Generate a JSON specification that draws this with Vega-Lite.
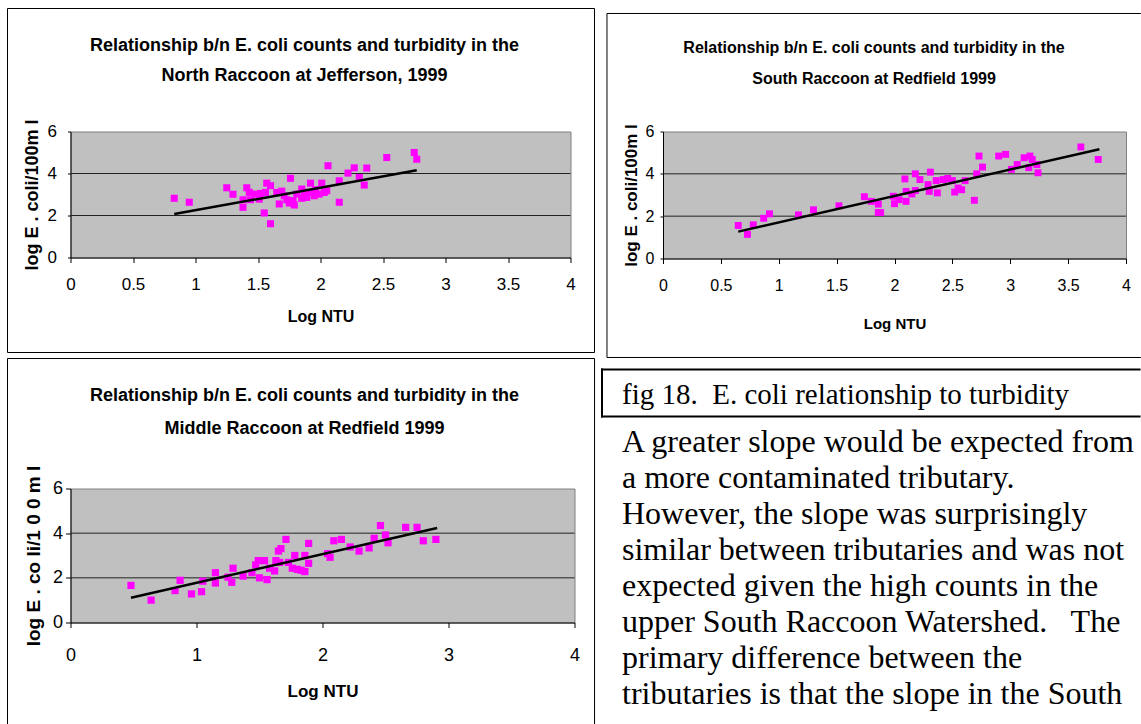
{
  "$schema": "https://vega.github.io/schema/vega-lite/v6.json",
  "padding": {"left": 6.5, "top": 7.5, "right": 0, "bottom": 0},
  "background": "white",
  "bounds": "full",
  "spacing": 3.5,
  "config": {
    "view": {"fill": "#C0C0C0", "stroke": "#808080", "strokeWidth": 1},
    "axis": {
      "labelFont": "Liberation Sans, Arial, sans-serif",
      "labelColor": "black",
      "titleColor": "black",
      "domainColor": "black",
      "domainWidth": 1,
      "tickColor": "black",
      "tickWidth": 1,
      "labelFlush": false,
      "grid": false
    }
  },
  "datasets": {
    "north": [
      {"ntu": 0.83, "ecoli": 2.82}, {"ntu": 0.95, "ecoli": 2.63}, {"ntu": 1.25, "ecoli": 3.32}, {"ntu": 1.30, "ecoli": 3.01},
      {"ntu": 1.38, "ecoli": 2.39}, {"ntu": 1.38, "ecoli": 2.75}, {"ntu": 1.41, "ecoli": 3.32}, {"ntu": 1.43, "ecoli": 3.10},
      {"ntu": 1.44, "ecoli": 2.75}, {"ntu": 1.48, "ecoli": 3.02}, {"ntu": 1.51, "ecoli": 2.78}, {"ntu": 1.52, "ecoli": 3.05},
      {"ntu": 1.55, "ecoli": 2.12}, {"ntu": 1.56, "ecoli": 3.10}, {"ntu": 1.57, "ecoli": 3.54}, {"ntu": 1.60, "ecoli": 3.42},
      {"ntu": 1.60, "ecoli": 1.61}, {"ntu": 1.65, "ecoli": 3.10}, {"ntu": 1.67, "ecoli": 2.55}, {"ntu": 1.69, "ecoli": 3.16},
      {"ntu": 1.71, "ecoli": 2.94}, {"ntu": 1.73, "ecoli": 2.75}, {"ntu": 1.75, "ecoli": 2.59}, {"ntu": 1.76, "ecoli": 3.77},
      {"ntu": 1.78, "ecoli": 2.71}, {"ntu": 1.79, "ecoli": 2.50}, {"ntu": 1.81, "ecoli": 3.02}, {"ntu": 1.85, "ecoli": 3.26},
      {"ntu": 1.85, "ecoli": 2.82}, {"ntu": 1.87, "ecoli": 3.10}, {"ntu": 1.89, "ecoli": 2.86}, {"ntu": 1.91, "ecoli": 3.10},
      {"ntu": 1.92, "ecoli": 3.54}, {"ntu": 1.95, "ecoli": 2.94}, {"ntu": 1.96, "ecoli": 3.23}, {"ntu": 1.99, "ecoli": 3.02},
      {"ntu": 2.01, "ecoli": 3.54}, {"ntu": 2.03, "ecoli": 3.10}, {"ntu": 2.05, "ecoli": 3.18}, {"ntu": 2.06, "ecoli": 4.37},
      {"ntu": 2.15, "ecoli": 3.65}, {"ntu": 2.15, "ecoli": 2.63}, {"ntu": 2.22, "ecoli": 4.02}, {"ntu": 2.27, "ecoli": 4.27},
      {"ntu": 2.31, "ecoli": 3.81}, {"ntu": 2.35, "ecoli": 3.45}, {"ntu": 2.37, "ecoli": 4.26}, {"ntu": 2.53, "ecoli": 4.76},
      {"ntu": 2.75, "ecoli": 5.00}, {"ntu": 2.77, "ecoli": 4.68}
    ],
    "northTrend": [{"ntu": 0.83, "ecoli": 2.07}, {"ntu": 2.77, "ecoli": 4.15}],
    "south": [
      {"ntu": 0.65, "ecoli": 1.56}, {"ntu": 0.73, "ecoli": 1.14}, {"ntu": 0.78, "ecoli": 1.59}, {"ntu": 0.87, "ecoli": 1.90},
      {"ntu": 0.92, "ecoli": 2.11}, {"ntu": 1.17, "ecoli": 2.06}, {"ntu": 1.30, "ecoli": 2.30}, {"ntu": 1.52, "ecoli": 2.49},
      {"ntu": 1.74, "ecoli": 2.92}, {"ntu": 1.80, "ecoli": 2.70}, {"ntu": 1.86, "ecoli": 2.57}, {"ntu": 1.86, "ecoli": 2.17},
      {"ntu": 1.88, "ecoli": 2.17}, {"ntu": 1.99, "ecoli": 2.94}, {"ntu": 2.00, "ecoli": 2.59}, {"ntu": 2.04, "ecoli": 2.78},
      {"ntu": 2.09, "ecoli": 3.76}, {"ntu": 2.10, "ecoli": 2.70}, {"ntu": 2.10, "ecoli": 3.17}, {"ntu": 2.15, "ecoli": 3.05},
      {"ntu": 2.18, "ecoli": 4.00}, {"ntu": 2.18, "ecoli": 3.21}, {"ntu": 2.22, "ecoli": 3.73}, {"ntu": 2.29, "ecoli": 3.49},
      {"ntu": 2.31, "ecoli": 4.08}, {"ntu": 2.30, "ecoli": 3.17}, {"ntu": 2.36, "ecoli": 3.68}, {"ntu": 2.37, "ecoli": 3.10},
      {"ntu": 2.42, "ecoli": 3.73}, {"ntu": 2.46, "ecoli": 3.78}, {"ntu": 2.50, "ecoli": 3.68}, {"ntu": 2.52, "ecoli": 3.14},
      {"ntu": 2.55, "ecoli": 3.33}, {"ntu": 2.58, "ecoli": 3.25}, {"ntu": 2.61, "ecoli": 3.68}, {"ntu": 2.69, "ecoli": 2.75},
      {"ntu": 2.71, "ecoli": 4.00}, {"ntu": 2.73, "ecoli": 4.84}, {"ntu": 2.76, "ecoli": 4.32}, {"ntu": 2.90, "ecoli": 4.84},
      {"ntu": 2.96, "ecoli": 4.92}, {"ntu": 3.01, "ecoli": 4.21}, {"ntu": 3.06, "ecoli": 4.44}, {"ntu": 3.12, "ecoli": 4.76},
      {"ntu": 3.16, "ecoli": 4.29}, {"ntu": 3.17, "ecoli": 4.84}, {"ntu": 3.19, "ecoli": 4.68}, {"ntu": 3.23, "ecoli": 4.44},
      {"ntu": 3.24, "ecoli": 4.05}, {"ntu": 3.61, "ecoli": 5.27}, {"ntu": 3.76, "ecoli": 4.68}
    ],
    "southTrend": [{"ntu": 0.65, "ecoli": 1.27}, {"ntu": 3.77, "ecoli": 5.16}],
    "middle": [
      {"ntu": 0.48, "ecoli": 1.66}, {"ntu": 0.64, "ecoli": 1.00}, {"ntu": 0.83, "ecoli": 1.43}, {"ntu": 0.87, "ecoli": 1.89},
      {"ntu": 0.96, "ecoli": 1.28}, {"ntu": 1.04, "ecoli": 1.38}, {"ntu": 1.05, "ecoli": 1.85}, {"ntu": 1.15, "ecoli": 2.23},
      {"ntu": 1.15, "ecoli": 1.77}, {"ntu": 1.25, "ecoli": 2.03}, {"ntu": 1.28, "ecoli": 1.80}, {"ntu": 1.29, "ecoli": 2.43},
      {"ntu": 1.37, "ecoli": 2.08}, {"ntu": 1.44, "ecoli": 2.23}, {"ntu": 1.47, "ecoli": 2.58}, {"ntu": 1.49, "ecoli": 2.77},
      {"ntu": 1.50, "ecoli": 2.00}, {"ntu": 1.54, "ecoli": 2.77}, {"ntu": 1.56, "ecoli": 1.92}, {"ntu": 1.58, "ecoli": 2.43},
      {"ntu": 1.62, "ecoli": 2.31}, {"ntu": 1.63, "ecoli": 2.77}, {"ntu": 1.65, "ecoli": 3.20}, {"ntu": 1.67, "ecoli": 3.31},
      {"ntu": 1.66, "ecoli": 2.69}, {"ntu": 1.71, "ecoli": 3.72}, {"ntu": 1.73, "ecoli": 2.69}, {"ntu": 1.76, "ecoli": 2.43},
      {"ntu": 1.78, "ecoli": 3.00}, {"ntu": 1.80, "ecoli": 2.38}, {"ntu": 1.83, "ecoli": 2.34}, {"ntu": 1.86, "ecoli": 2.28},
      {"ntu": 1.86, "ecoli": 3.00}, {"ntu": 1.89, "ecoli": 3.54}, {"ntu": 1.89, "ecoli": 2.65}, {"ntu": 2.04, "ecoli": 3.08},
      {"ntu": 2.06, "ecoli": 2.92}, {"ntu": 2.09, "ecoli": 3.66}, {"ntu": 2.15, "ecoli": 3.72}, {"ntu": 2.22, "ecoli": 3.38},
      {"ntu": 2.29, "ecoli": 3.20}, {"ntu": 2.37, "ecoli": 3.34}, {"ntu": 2.41, "ecoli": 3.77}, {"ntu": 2.46, "ecoli": 4.34},
      {"ntu": 2.50, "ecoli": 3.92}, {"ntu": 2.52, "ecoli": 3.57}, {"ntu": 2.66, "ecoli": 4.26}, {"ntu": 2.75, "ecoli": 4.26},
      {"ntu": 2.80, "ecoli": 3.66}, {"ntu": 2.90, "ecoli": 3.72}
    ],
    "middleTrend": [{"ntu": 0.48, "ecoli": 1.11}, {"ntu": 2.91, "ecoli": 4.23}],
    "paragraph": [
      {"line": 1, "text": "A greater slope would be expected from"},
      {"line": 2, "text": "a more contaminated tributary."},
      {"line": 3, "text": "However, the slope was surprisingly"},
      {"line": 4, "text": "similar between tributaries and was not"},
      {"line": 5, "text": "expected given the high counts in the"},
      {"line": 6, "text": "upper South Raccoon Watershed.\u00a0\u00a0 The"},
      {"line": 7, "text": "primary difference between the"},
      {"line": 8, "text": "tributaries is that the slope in the South"}
    ]
  },
  "hconcat": [
    {
      "bounds": "flush",
      "spacing": 231,
      "vconcat": [
        {
          "width": 500,
          "height": 126,
          "layer": [
            {"data": {"values": [{}]}, "mark": {"type": "rule", "color": "#222222", "strokeWidth": 1},
              "encoding": {
                "x": {"datum": 0, "type": "quantitative", "scale": {"domain": [0, 4], "nice": false, "zero": false}},
                "x2": {"datum": 4},
                "y": {"datum": 2, "type": "quantitative", "scale": {"domain": [0, 6], "nice": false, "zero": false}}}},
            {"data": {"values": [{}]}, "mark": {"type": "rule", "color": "#222222", "strokeWidth": 1},
              "encoding": {
                "x": {"datum": 0, "type": "quantitative", "scale": {"domain": [0, 4], "nice": false, "zero": false}},
                "x2": {"datum": 4},
                "y": {"datum": 4, "type": "quantitative", "scale": {"domain": [0, 6], "nice": false, "zero": false}}}},
            {"data": {"name": "north"}, "mark": {"type": "square", "size": 50, "color": "#FF00FF", "opacity": 1},
              "encoding": {
                "x": {"field": "ntu", "type": "quantitative", "scale": {"domain": [0, 4], "nice": false, "zero": false},
                  "axis": {"values": [0, 0.5, 1, 1.5, 2, 2.5, 3, 3.5, 4], "format": "~g", "title": "Log NTU", "tickSize": 5, "labelPadding": 14, "labelFontSize": 17, "titleFont": "Liberation Sans, Arial, sans-serif", "titleFontSize": 16, "titleFontWeight": "bold", "titlePadding": 16}},
                "y": {"field": "ecoli", "type": "quantitative", "scale": {"domain": [0, 6], "nice": false, "zero": false},
                  "axis": {"values": [0, 2, 4, 6], "title": "log E . coli/100m l", "tickSize": 3, "labelPadding": 11, "labelFontSize": 17, "titleFont": "Liberation Sans, Arial, sans-serif", "titleFontSize": 18, "titleFontWeight": "bold", "titlePadding": 6}}
              }},
            {"data": {"name": "northTrend"}, "mark": {"type": "line", "color": "black", "strokeWidth": 2.5},
              "encoding": {
                "x": {"field": "ntu", "type": "quantitative", "scale": {"domain": [0, 4], "nice": false, "zero": false}},
                "y": {"field": "ecoli", "type": "quantitative", "scale": {"domain": [0, 6], "nice": false, "zero": false}}
              }},
            {"data": {"values": [{}]},
              "mark": {"type": "text", "font": "Liberation Sans, Arial, sans-serif", "fontSize": 18, "fontWeight": "bold", "align": "center", "baseline": "alphabetic", "lineHeight": 30, "color": "black"},
              "encoding": {
                "x": {"datum": 1.872, "type": "quantitative", "scale": {"domain": [0, 4], "nice": false, "zero": false}},
                "y": {"datum": 9.857, "type": "quantitative", "scale": {"domain": [0, 6], "nice": false, "zero": false}},
                "text": {"value": ["Relationship b/n E. coli counts and turbidity in the", "North Raccoon at Jefferson, 1999"]}}},
            {"data": {"values": [{}]}, "mark": {"type": "rule", "color": "black", "strokeWidth": 1},
              "encoding": {
                "x": {"datum": -0.504, "type": "quantitative", "scale": {"domain": [0, 4], "nice": false, "zero": false}},
                "y": {"datum": -4.524, "type": "quantitative", "scale": {"domain": [0, 6], "nice": false, "zero": false}},
                "y2": {"datum": 11.857}}},
            {"data": {"values": [{}]}, "mark": {"type": "rule", "color": "black", "strokeWidth": 1},
              "encoding": {
                "x": {"datum": 4.192, "type": "quantitative", "scale": {"domain": [0, 4], "nice": false, "zero": false}},
                "y": {"datum": -4.524, "type": "quantitative", "scale": {"domain": [0, 6], "nice": false, "zero": false}},
                "y2": {"datum": 11.857}}},
            {"data": {"values": [{}]}, "mark": {"type": "rule", "color": "black", "strokeWidth": 1},
              "encoding": {
                "x": {"datum": -0.504, "type": "quantitative", "scale": {"domain": [0, 4], "nice": false, "zero": false}},
                "x2": {"datum": 4.192},
                "y": {"datum": 11.857, "type": "quantitative", "scale": {"domain": [0, 6], "nice": false, "zero": false}}}},
            {"data": {"values": [{}]}, "mark": {"type": "rule", "color": "black", "strokeWidth": 1},
              "encoding": {
                "x": {"datum": -0.504, "type": "quantitative", "scale": {"domain": [0, 4], "nice": false, "zero": false}},
                "x2": {"datum": 4.192},
                "y": {"datum": -4.524, "type": "quantitative", "scale": {"domain": [0, 6], "nice": false, "zero": false}}}}
          ]
        },
        {
          "width": 504,
          "height": 134,
          "layer": [
            {"data": {"values": [{}]}, "mark": {"type": "rule", "color": "#222222", "strokeWidth": 1},
              "encoding": {
                "x": {"datum": 0, "type": "quantitative", "scale": {"domain": [0, 4], "nice": false, "zero": false}},
                "x2": {"datum": 4},
                "y": {"datum": 2, "type": "quantitative", "scale": {"domain": [0, 6], "nice": false, "zero": false}}}},
            {"data": {"values": [{}]}, "mark": {"type": "rule", "color": "#222222", "strokeWidth": 1},
              "encoding": {
                "x": {"datum": 0, "type": "quantitative", "scale": {"domain": [0, 4], "nice": false, "zero": false}},
                "x2": {"datum": 4},
                "y": {"datum": 4, "type": "quantitative", "scale": {"domain": [0, 6], "nice": false, "zero": false}}}},
            {"data": {"name": "middle"}, "mark": {"type": "square", "size": 52, "color": "#FF00FF", "opacity": 1},
              "encoding": {
                "x": {"field": "ntu", "type": "quantitative", "scale": {"domain": [0, 4], "nice": false, "zero": false},
                  "axis": {"values": [0, 1, 2, 3, 4], "format": "~g", "title": "Log NTU", "tickSize": 5, "labelPadding": 19, "labelFontSize": 18, "titleFont": "Liberation Sans, Arial, sans-serif", "titleFontSize": 17, "titleFontWeight": "bold", "titlePadding": 19}},
                "y": {"field": "ecoli", "type": "quantitative", "scale": {"domain": [0, 6], "nice": false, "zero": false},
                  "axis": {"values": [0, 2, 4, 6], "title": "log E . co li/1 0 0 m l", "tickSize": 5, "labelPadding": 3, "labelFontSize": 18, "titleFont": "Liberation Sans, Arial, sans-serif", "titleFontSize": 19, "titleFontWeight": "bold", "titlePadding": 9}}
              }},
            {"data": {"name": "middleTrend"}, "mark": {"type": "line", "color": "black", "strokeWidth": 2.5},
              "encoding": {
                "x": {"field": "ntu", "type": "quantitative", "scale": {"domain": [0, 4], "nice": false, "zero": false}},
                "y": {"field": "ecoli", "type": "quantitative", "scale": {"domain": [0, 6], "nice": false, "zero": false}}
              }},
            {"data": {"values": [{}]},
              "mark": {"type": "text", "font": "Liberation Sans, Arial, sans-serif", "fontSize": 18, "fontWeight": "bold", "align": "center", "baseline": "alphabetic", "lineHeight": 33, "color": "black"},
              "encoding": {
                "x": {"datum": 1.857, "type": "quantitative", "scale": {"domain": [0, 4], "nice": false, "zero": false}},
                "y": {"datum": 9.94, "type": "quantitative", "scale": {"domain": [0, 6], "nice": false, "zero": false}},
                "text": {"value": ["Relationship b/n E. coli counts and turbidity in the", "Middle Raccoon at Redfield 1999"]}}},
            {"data": {"values": [{}]}, "mark": {"type": "rule", "color": "black", "strokeWidth": 1},
              "encoding": {
                "x": {"datum": -0.5, "type": "quantitative", "scale": {"domain": [0, 4], "nice": false, "zero": false}},
                "y": {"datum": -4.567, "type": "quantitative", "scale": {"domain": [0, 6], "nice": false, "zero": false}},
                "y2": {"datum": 11.82}}},
            {"data": {"values": [{}]}, "mark": {"type": "rule", "color": "black", "strokeWidth": 1},
              "encoding": {
                "x": {"datum": 4.159, "type": "quantitative", "scale": {"domain": [0, 4], "nice": false, "zero": false}},
                "y": {"datum": -4.567, "type": "quantitative", "scale": {"domain": [0, 6], "nice": false, "zero": false}},
                "y2": {"datum": 11.82}}},
            {"data": {"values": [{}]}, "mark": {"type": "rule", "color": "black", "strokeWidth": 1},
              "encoding": {
                "x": {"datum": -0.5, "type": "quantitative", "scale": {"domain": [0, 4], "nice": false, "zero": false}},
                "x2": {"datum": 4.159},
                "y": {"datum": 11.82, "type": "quantitative", "scale": {"domain": [0, 6], "nice": false, "zero": false}}}}
          ]
        }
      ]
    },
    {
      "bounds": "flush",
      "spacing": 110,
      "vconcat": [
        {
          "width": 463,
          "height": 127,
          "layer": [
            {"data": {"values": [{}]}, "mark": {"type": "rule", "color": "#222222", "strokeWidth": 1},
              "encoding": {
                "x": {"datum": 0, "type": "quantitative", "scale": {"domain": [0, 4], "nice": false, "zero": false}},
                "x2": {"datum": 4},
                "y": {"datum": 2, "type": "quantitative", "scale": {"domain": [0, 6], "nice": false, "zero": false}}}},
            {"data": {"values": [{}]}, "mark": {"type": "rule", "color": "#222222", "strokeWidth": 1},
              "encoding": {
                "x": {"datum": 0, "type": "quantitative", "scale": {"domain": [0, 4], "nice": false, "zero": false}},
                "x2": {"datum": 4},
                "y": {"datum": 4, "type": "quantitative", "scale": {"domain": [0, 6], "nice": false, "zero": false}}}},
            {"data": {"name": "south"}, "mark": {"type": "square", "size": 48, "color": "#FF00FF", "opacity": 1},
              "encoding": {
                "x": {"field": "ntu", "type": "quantitative", "scale": {"domain": [0, 4], "nice": false, "zero": false},
                  "axis": {"values": [0, 0.5, 1, 1.5, 2, 2.5, 3, 3.5, 4], "format": "~g", "title": "Log NTU", "tickSize": 5, "labelPadding": 14, "labelFontSize": 16, "titleFont": "Liberation Sans, Arial, sans-serif", "titleFontSize": 15, "titleFontWeight": "bold", "titlePadding": 23}},
                "y": {"field": "ecoli", "type": "quantitative", "scale": {"domain": [0, 6], "nice": false, "zero": false},
                  "axis": {"values": [0, 2, 4, 6], "title": "log E . coli/100m l", "tickSize": 3, "labelPadding": 6, "labelFontSize": 16, "titleFont": "Liberation Sans, Arial, sans-serif", "titleFontSize": 17, "titleFontWeight": "bold", "titlePadding": 5}}
              }},
            {"data": {"name": "southTrend"}, "mark": {"type": "line", "color": "black", "strokeWidth": 2.5},
              "encoding": {
                "x": {"field": "ntu", "type": "quantitative", "scale": {"domain": [0, 4], "nice": false, "zero": false}},
                "y": {"field": "ecoli", "type": "quantitative", "scale": {"domain": [0, 6], "nice": false, "zero": false}}
              }},
            {"data": {"values": [{}]},
              "mark": {"type": "text", "font": "Liberation Sans, Arial, sans-serif", "fontSize": 16, "fontWeight": "bold", "align": "center", "baseline": "alphabetic", "lineHeight": 31, "color": "black"},
              "encoding": {
                "x": {"datum": 1.823, "type": "quantitative", "scale": {"domain": [0, 4], "nice": false, "zero": false}},
                "y": {"datum": 9.7, "type": "quantitative", "scale": {"domain": [0, 6], "nice": false, "zero": false}},
                "text": {"value": ["Relationship b/n E. coli counts and turbidity in the", "South Raccoon at Redfield 1999"]}}},
            {"data": {"values": [{}]}, "mark": {"type": "rule", "color": "black", "strokeWidth": 1},
              "encoding": {
                "x": {"datum": -0.484, "type": "quantitative", "scale": {"domain": [0, 4], "nice": false, "zero": false}},
                "y": {"datum": -4.677, "type": "quantitative", "scale": {"domain": [0, 6], "nice": false, "zero": false}},
                "y2": {"datum": 11.575}}},
            {"data": {"values": [{}]}, "mark": {"type": "rule", "color": "black", "strokeWidth": 1},
              "encoding": {
                "x": {"datum": -0.484, "type": "quantitative", "scale": {"domain": [0, 4], "nice": false, "zero": false}},
                "x2": {"datum": 4.128},
                "y": {"datum": 11.575, "type": "quantitative", "scale": {"domain": [0, 6], "nice": false, "zero": false}}}},
            {"data": {"values": [{}]}, "mark": {"type": "rule", "color": "black", "strokeWidth": 1},
              "encoding": {
                "x": {"datum": -0.484, "type": "quantitative", "scale": {"domain": [0, 4], "nice": false, "zero": false}},
                "x2": {"datum": 4.128},
                "y": {"datum": -4.677, "type": "quantitative", "scale": {"domain": [0, 6], "nice": false, "zero": false}}}}
          ]
        },
        {
          "width": 478,
          "height": 356,
          "view": {"stroke": null, "fill": null},
          "layer": [
            {"data": {"name": "paragraph"},
              "mark": {"type": "text", "font": "Liberation Serif, Times New Roman, serif", "fontSize": 32, "align": "left", "baseline": "alphabetic", "color": "black"},
              "encoding": {
                "x": {"datum": -0.0858, "type": "quantitative", "scale": {"domain": [0, 1], "nice": false, "zero": false}, "axis": null},
                "y": {"field": "line", "type": "quantitative", "scale": {"domain": [-1.306, 8.583], "nice": false, "zero": false, "reverse": true}, "axis": null},
                "text": {"field": "text"}}},
            {"data": {"values": [{}]},
              "mark": {"type": "text", "font": "Liberation Serif, Times New Roman, serif", "fontSize": 29, "align": "left", "baseline": "alphabetic", "color": "black"},
              "encoding": {
                "x": {"datum": -0.0858, "type": "quantitative", "scale": {"domain": [0, 1], "nice": false, "zero": false}, "axis": null},
                "y": {"datum": -0.306, "type": "quantitative", "scale": {"domain": [-1.306, 8.583], "nice": false, "zero": false, "reverse": true}, "axis": null},
                "text": {"value": "fig 18.\u00a0 E. coli relationship to turbidity"}}},
            {"data": {"values": [{}]}, "mark": {"type": "rule", "color": "black", "strokeWidth": 2, "strokeCap": "square"},
              "encoding": {
                "x": {"datum": -0.1276, "type": "quantitative", "scale": {"domain": [0, 1], "nice": false, "zero": false}, "axis": null},
                "x2": {"datum": 0.997},
                "y": {"datum": -1.28, "type": "quantitative", "scale": {"domain": [-1.306, 8.583], "nice": false, "zero": false, "reverse": true}, "axis": null}}},
            {"data": {"values": [{}]}, "mark": {"type": "rule", "color": "black", "strokeWidth": 2, "strokeCap": "square"},
              "encoding": {
                "x": {"datum": -0.1276, "type": "quantitative", "scale": {"domain": [0, 1], "nice": false, "zero": false}, "axis": null},
                "x2": {"datum": 0.997},
                "y": {"datum": 0.028, "type": "quantitative", "scale": {"domain": [-1.306, 8.583], "nice": false, "zero": false, "reverse": true}, "axis": null}}},
            {"data": {"values": [{}]}, "mark": {"type": "rule", "color": "black", "strokeWidth": 2, "strokeCap": "square"},
              "encoding": {
                "x": {"datum": -0.1276, "type": "quantitative", "scale": {"domain": [0, 1], "nice": false, "zero": false}, "axis": null},
                "y": {"datum": -1.28, "type": "quantitative", "scale": {"domain": [-1.306, 8.583], "nice": false, "zero": false, "reverse": true}, "axis": null},
                "y2": {"datum": 0.028}}}
          ]
        }
      ]
    }
  ]
}
